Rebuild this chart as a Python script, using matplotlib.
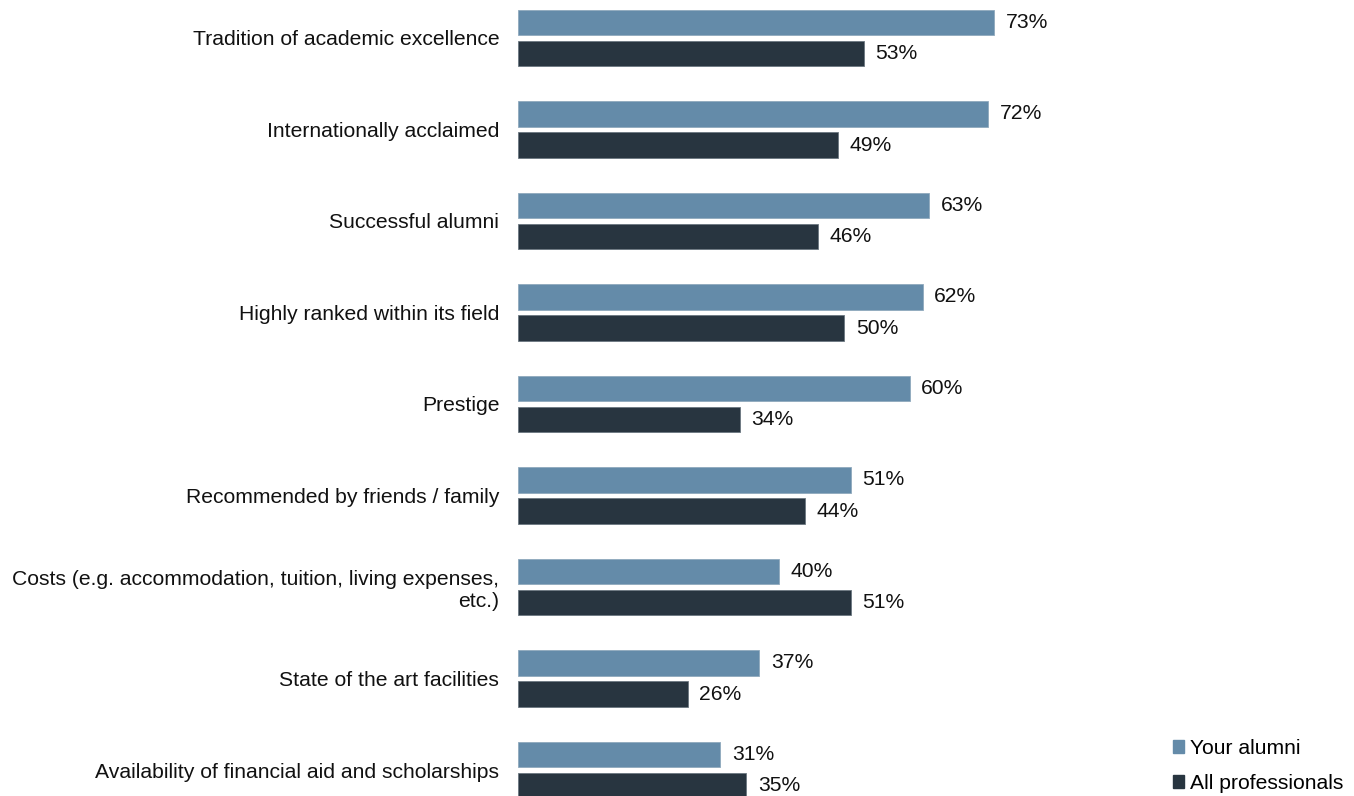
import matplotlib
matplotlib.use("Agg")
import matplotlib.pyplot as plt
from matplotlib.patches import Patch
import numpy as np

plt.rcParams['font.family'] = ['Liberation Sans', 'DejaVu Sans']

categories = [
    "Tradition of academic excellence",
    "Internationally acclaimed",
    "Successful alumni",
    "Highly ranked within its field",
    "Prestige",
    "Recommended by friends / family",
    "Costs (e.g. accommodation, tuition, living expenses,\netc.)",
    "State of the art facilities",
    "Availability of financial aid and scholarships",
]
your_alumni = [73, 72, 63, 62, 60, 51, 40, 37, 31]
all_professionals = [53, 49, 46, 50, 34, 44, 51, 26, 35]

light = "#648ba9"
dark = "#283540"
fs = 15.2

fig = plt.figure(figsize=(13.54, 7.96), dpi=100)
ax = fig.add_axes([518 / 1354, 0, (1040 - 518) / 1354, 1])

y = np.arange(len(categories))
h = 0.275
off = 0.17
b1 = ax.barh(y - off, your_alumni, height=h, color=light, edgecolor="#8fa9bd", linewidth=0.6)
b2 = ax.barh(y + off, all_professionals, height=h, color=dark, edgecolor="#6b7780", linewidth=0.6)

for bars, vals in ((b1, your_alumni), (b2, all_professionals)):
    for rect, v in zip(bars, vals):
        ax.text(v + 1.8, rect.get_y() + rect.get_height() / 2, f"{v}%",
                va="center", ha="left", fontsize=fs, color="#111111")

ax.set_xlim(0, 80)
ax.set_ylim(8.284, -0.415)
ax.set_yticks(y)
ax.set_yticklabels(categories, fontsize=fs, color="#111111", ha="right")
ax.tick_params(axis="y", length=0, pad=13.5)
ax.set_xticks([])
for s in ax.spines.values():
    s.set_visible(False)

handles = [Patch(facecolor=light, edgecolor=light), Patch(facecolor=dark, edgecolor=dark)]
fig.legend(handles, ["Your alumni", "All professionals"], loc="lower left",
           bbox_to_anchor=(1160 / 1354, -0.012), frameon=False, fontsize=fs,
           handlelength=0.55, handleheight=0.55, handletextpad=0.25, labelspacing=0.75,
           borderaxespad=0.2)

fig.savefig("out.png", dpi=100)
